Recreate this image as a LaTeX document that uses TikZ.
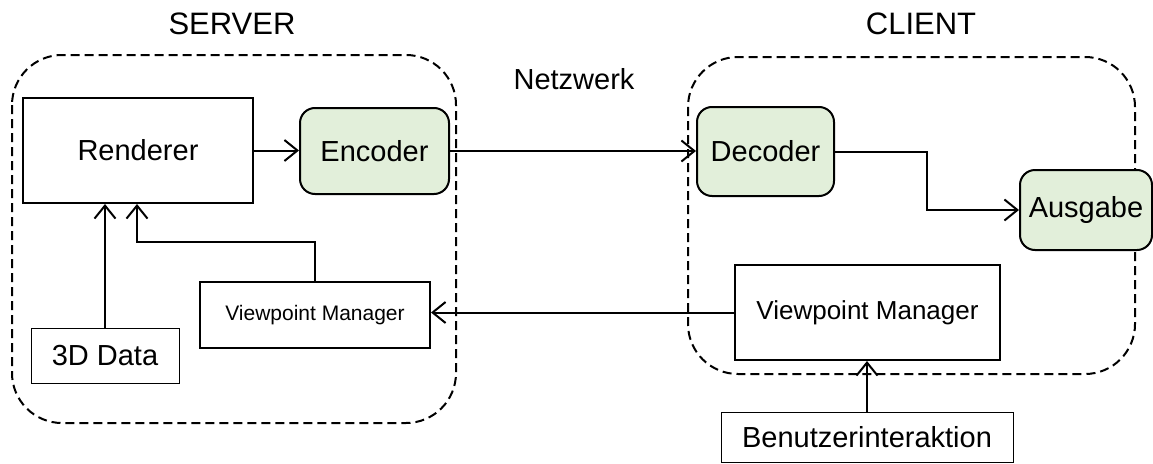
\documentclass[tikz,border=0pt]{standalone}
\usepackage{fontspec}
\setmainfont{Liberation Sans}
\usetikzlibrary{arrows.meta}
\definecolor{boxgreen}{RGB}{226,239,218}
\tikzset{
  fs/.style={font=\fontsize{#1}{#1}\selectfont},
  plainbox/.style={draw, line width=2pt, inner sep=0pt, fs=29},
  thinbox/.style={draw, line width=1pt, inner sep=0pt, fs=29},
  codecbox/.style={draw, line width=2pt, rounded corners=15pt, fill=boxgreen, inner sep=0pt, fs=29},
  zone/.style={draw, line width=2pt, dash pattern=on 9pt off 5pt, rounded corners=50pt},
  title/.style={inner sep=0pt, fs=31},
  arr/.style={line width=2pt, -{Straight Barb[length=13pt,width=21pt,line width=2pt]}},
}
\begin{document}
\begin{tikzpicture}[x=1pt,y=-1pt]
\useasboundingbox (0,0) rectangle (1153,463);

% dashed zones
\draw[zone] (12,55) rectangle (456,423);
\draw[zone] (688,57) rectangle (1135,374);

% zone titles
\node[title] (tserver) at (232,24) {SERVER};
\node[title] (tclient) at (921,24) {CLIENT};
\node[inner sep=0pt, fs=29] (tnet) at (574,79) {Netzwerk};

% server side
\node[plainbox, minimum width=230pt, minimum height=105pt] (ren) at (138,150.5) {Renderer};
\node[codecbox, minimum width=149pt, minimum height=86pt] (enc) at (374.5,151) {Encoder};
\node[thinbox, minimum width=148pt, minimum height=55pt, fill=white] (data) at (105,355.5) {3D Data};
\node[plainbox, minimum width=230pt, minimum height=66pt, fs=21] (svm) at (315,315) {Viewpoint Manager};

% client side
\node[codecbox, minimum width=137pt, minimum height=89pt] (dec) at (765.5,151.5) {Decoder};
\node[codecbox, minimum width=132pt, minimum height=80pt] (aus) at (1086,210) {Ausgabe};
\node[plainbox, minimum width=265pt, minimum height=95pt, fs=26, fill=white] (cvm) at (867.5,312.5) {Viewpoint Manager};
\node[thinbox, minimum width=292pt, minimum height=50pt, fill=white] (ben) at (867,437) {Benutzerinteraktion};

% bend points
\coordinate (rin) at (137,242);
\coordinate (bend) at (927,210);

% connectors
\draw[arr] (ren.east) -- (ren.east -| enc.west);
\draw[arr] (enc.east) -- (enc.east -| dec.west);
\draw[arr] (dec.east) -- (dec.east -| bend) |- (aus.west);
\draw[arr] (data.north) -- (data.north |- ren.south);
\draw[arr] (svm.north) |- (rin) -- (rin |- ren.south);
\draw[arr] (cvm.west) -- (cvm.west -| svm.east);
\draw[arr] (ben.north) -- (ben.north |- cvm.south);
\end{tikzpicture}
\end{document}
